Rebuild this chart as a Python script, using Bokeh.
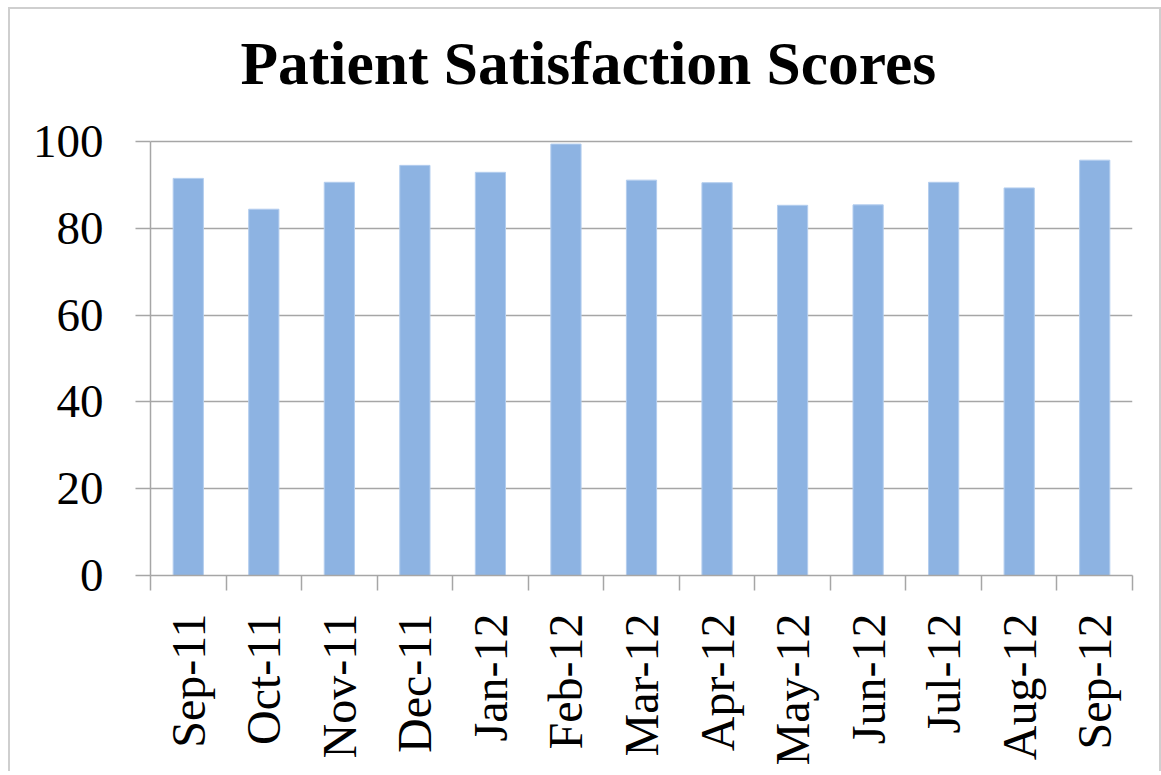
import math
from bokeh.plotting import figure
from bokeh.models import Range1d, FixedTicker, Label
from bokeh.embed import file_html
from bokeh.resources import INLINE

# ---- data ----
months = ["Sep-11", "Oct-11", "Nov-11", "Dec-11", "Jan-12", "Feb-12", "Mar-12",
          "Apr-12", "May-12", "Jun-12", "Jul-12", "Aug-12", "Sep-12"]
scores = [91.5, 84.4, 90.6, 94.5, 92.9, 99.4, 91.1, 90.5, 85.3, 85.4, 90.6, 89.3, 95.7]
y_ticks = [0, 20, 40, 60, 80, 100]
title_text = "Patient Satisfaction Scores"

n = len(months)
idx = list(range(n))
boundaries = [i - 0.5 for i in range(n + 1)]

GRID = "#A6A6A6"
FONT = "Liberation Serif"

# layout (canvas pixels)
W, H = 1153, 764
B_LEFT, B_RIGHT, B_TOP, B_BOTTOM = 140, 31, 10, 198
AXIS_TOP = 132                      # where the value 100 should sit
frame_h = H - B_TOP - B_BOTTOM
px_per_unit = (H - B_BOTTOM - AXIS_TOP) / 100.0
y_end = frame_h / px_per_unit       # extend range so the title sits inside the frame

p = figure(width=W, height=H, output_backend="svg", toolbar_location=None,
           title=None,
           x_range=Range1d(-0.5, n - 0.5), y_range=Range1d(0, y_end),
           min_border_left=B_LEFT, min_border_right=B_RIGHT,
           min_border_top=B_TOP, min_border_bottom=B_BOTTOM)
p.styles = {"margin-left": "8px", "margin-top": "7px",
            "border-left": "2px solid #CFCFCF", "border-top": "2px solid #CFCFCF",
            "border-right": "2px solid #CFCFCF", "box-sizing": "border-box"}

p.vbar(x=idx, top=scores, width=0.4, fill_color="#8DB3E2",
       line_color="#B3CDEE", line_width=1)

p.outline_line_color = None
p.background_fill_color = "white"
p.border_fill_color = "white"

# title placed above the 100 line, left edge 90 px right of the y axis
frame_w = W - B_LEFT - B_RIGHT
title_x = -0.5 + 90 * n / frame_w
title_y = 100 + 79 / px_per_unit
p.add_layout(Label(x=title_x, y=title_y,
                   text=title_text, text_font=FONT, text_font_size="61.5px",
                   text_font_style="bold", text_color="black",
                   text_align="left", text_baseline="alphabetic"))

# x axis
xa = p.xaxis[0]
xa.ticker = FixedTicker(ticks=idx, minor_ticks=boundaries)
xa.major_label_overrides = {i: m for i, m in zip(idx, months)}
xa.major_tick_out = 0
xa.major_tick_in = 0
xa.minor_tick_out = 15
xa.minor_tick_in = 0
xa.minor_tick_line_color = GRID
xa.minor_tick_line_width = 1.5
xa.axis_line_color = GRID
xa.axis_line_width = 1.5
xa.major_label_orientation = math.pi / 2
xa.major_label_standoff = 23
xa.major_label_text_font = FONT
xa.major_label_text_font_size = "48px"
xa.major_label_text_color = "black"

# y axis
ya = p.yaxis[0]
ya.ticker = FixedTicker(ticks=y_ticks)
ya.bounds = (0, 100)
ya.major_tick_out = 15
ya.major_tick_in = 0
ya.minor_tick_out = 0
ya.minor_tick_in = 0
ya.major_tick_line_color = GRID
ya.major_tick_line_width = 1.5
ya.axis_line_color = GRID
ya.axis_line_width = 1.5
ya.major_label_standoff = 32
ya.major_label_text_font = FONT
ya.major_label_text_font_size = "47px"
ya.major_label_text_color = "black"

p.xgrid.visible = False
p.ygrid.ticker = FixedTicker(ticks=y_ticks)
p.ygrid.grid_line_color = GRID
p.ygrid.grid_line_width = 1.5

open("out.html", "w").write(file_html(p, INLINE))
